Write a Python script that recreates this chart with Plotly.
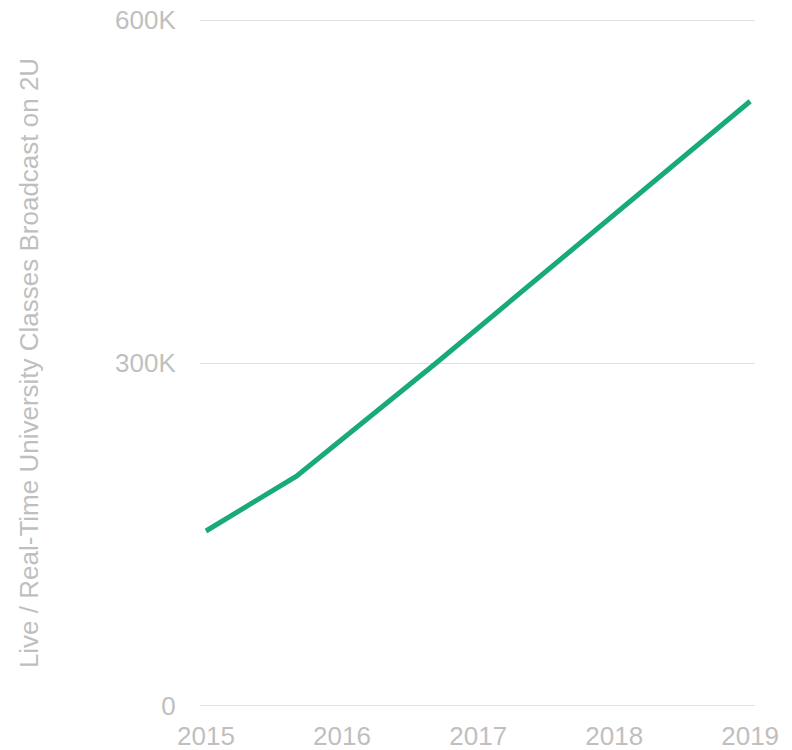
import plotly.graph_objects as go

dates = ["2015-01-01", "2015-09-01", "2016-09-10", "2017-09-08", "2019-01-01"]
classes = [153000, 201000, 300000, 399000, 529000]

y_tickvals = [0, 300000, 600000]
y_ticktext = ["0", "300K", "600K"]
x_tickvals = ["2015-01-01", "2016-01-01", "2017-01-01", "2018-01-01", "2019-01-01"]
x_ticktext = ["2015", "2016", "2017", "2018", "2019"]

y_title = "Live / Real-Time University Classes Broadcast on 2U"

fig = go.Figure()
fig.add_trace(go.Scatter(
    x=dates, y=classes, mode="lines",
    line=dict(color="#19aa79", width=5),
    hoverinfo="skip", showlegend=False,
))

font_family = "Liberation Sans, Arial, sans-serif"
label_color = "#bfbfbf"

fig.update_layout(
    width=792, height=750,
    margin=dict(l=200, r=37, t=19, b=43, autoexpand=False),
    paper_bgcolor="white", plot_bgcolor="white",
    font=dict(family=font_family, size=26, color=label_color),
    xaxis=dict(
        type="date",
        range=["2014-12-16", "2019-01-14"],
        tickvals=x_tickvals, ticktext=x_ticktext,
        showgrid=False, zeroline=False, showline=False,
        ticks="outside", ticklen=6, tickcolor="rgba(0,0,0,0)",
        tickfont=dict(size=26, color=label_color),
        ticklabeloverflow="allow",
        fixedrange=True,
    ),
    yaxis=dict(
        range=[-1000, 601000],
        tickvals=y_tickvals, ticktext=y_ticktext,
        showgrid=True, gridcolor="#dfe1e5", gridwidth=1,
        zeroline=False, showline=False,
        ticks="outside", ticklen=18, tickcolor="rgba(0,0,0,0)",
        tickfont=dict(size=26, color=label_color),
        ticklabeloverflow="allow",
        title=dict(text=y_title, font=dict(size=26, color=label_color), standoff=68),
        automargin=False,
        fixedrange=True,
    ),
)

fig.write_html(
    "out.html",
    config={"displayModeBar": False},
    post_script="document.body.style.margin='0';document.body.style.overflow='hidden';",
)
